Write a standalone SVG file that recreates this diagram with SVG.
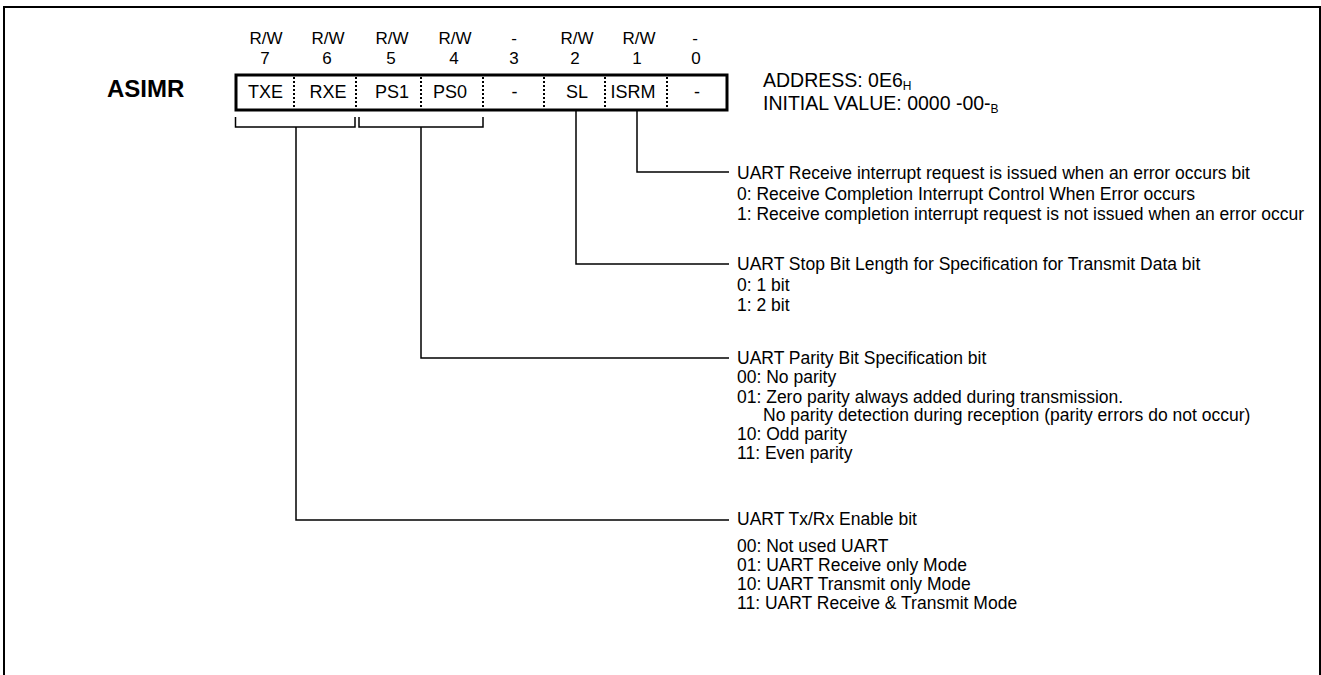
<svg xmlns="http://www.w3.org/2000/svg" width="1321" height="675" viewBox="0 0 1321 675">
<style>
text{font-family:"Liberation Sans",Arial,sans-serif;fill:#000}
.hd{font-size:17px;text-anchor:middle}
.cell{font-size:18px;text-anchor:middle}
.desc{font-size:17.5px}
.addr{font-size:19.5px}
.sub{font-size:12px}
.ln{fill:none;stroke:#000;stroke-width:1.5}
.div{stroke:#000;stroke-width:2;stroke-dasharray:2 2}
</style>
<rect width="1321" height="675" fill="#fff"/>
<path d="M4,676 V7 H1320 V676" fill="none" stroke="#000" stroke-width="2"/>
<g id="title"><text x="107" y="97" font-size="24" font-weight="bold">ASIMR</text></g>
<g id="access">
<text class="hd" x="266" y="44">R/W</text>
<text class="hd" x="328" y="44">R/W</text>
<text class="hd" x="392" y="44">R/W</text>
<text class="hd" x="455" y="44">R/W</text>
<text class="hd" x="514" y="44">-</text>
<text class="hd" x="577" y="44">R/W</text>
<text class="hd" x="639" y="44">R/W</text>
<text class="hd" x="695" y="44">-</text>
</g>
<g id="bitnums">
<text class="hd" x="265" y="64">7</text>
<text class="hd" x="327" y="64">6</text>
<text class="hd" x="391" y="64">5</text>
<text class="hd" x="454" y="64">4</text>
<text class="hd" x="514" y="64">3</text>
<text class="hd" x="575" y="64">2</text>
<text class="hd" x="637" y="64">1</text>
<text class="hd" x="696" y="64">0</text>
</g>
<g id="register">
<rect x="236" y="75" width="491" height="35" fill="none" stroke="#000" stroke-width="3"/>
<line class="div" x1="294" y1="77" x2="294" y2="109"/>
<line class="div" x1="356" y1="77" x2="356" y2="109"/>
<line class="div" x1="421" y1="77" x2="421" y2="109"/>
<line class="div" x1="483" y1="77" x2="483" y2="109"/>
<line class="div" x1="544" y1="77" x2="544" y2="109"/>
<line class="div" x1="605" y1="77" x2="605" y2="109"/>
<line class="div" x1="667" y1="77" x2="667" y2="109"/>
<text class="cell" x="265.5" y="98">TXE</text>
<text class="cell" x="328" y="98">RXE</text>
<text class="cell" x="392" y="98">PS1</text>
<text class="cell" x="450" y="98">PS0</text>
<text class="cell" x="514.5" y="98">-</text>
<text class="cell" x="577" y="98">SL</text>
<text class="cell" x="633" y="98">ISRM</text>
<text class="cell" x="697" y="98">-</text>
</g>
<g id="address">
<text class="addr" x="763" y="87">ADDRESS: 0E6<tspan class="sub" dy="3">H</tspan></text>
<text class="addr" x="763" y="110">INITIAL VALUE: 0000 -00-<tspan class="sub" dy="3">B</tspan></text>
</g>
<g id="connectors">
<path class="ln" d="M235.5,117 V127 H355 V117"/>
<path class="ln" d="M359,117 V127 H483 V117"/>
<path class="ln" d="M296,127 V520 H729"/>
<path class="ln" d="M421,127 V358 H729"/>
<path class="ln" d="M576,110 V264 H729"/>
<path class="ln" d="M637,110 V172 H729"/>
</g>
<g id="isrm-desc">
<text class="desc" x="737" y="179">UART Receive interrupt request is issued when an error occurs bit</text>
<text class="desc" x="737" y="200">0: Receive Completion Interrupt Control When Error occurs</text>
<text class="desc" x="737" y="220">1: Receive completion interrupt request is not issued when an error occur</text>
</g>
<g id="sl-desc">
<text class="desc" x="737" y="270">UART Stop Bit Length for Specification for Transmit Data bit</text>
<text class="desc" x="737" y="291">0: 1 bit</text>
<text class="desc" x="737" y="311">1: 2 bit</text>
</g>
<g id="ps-desc">
<text class="desc" x="737" y="364">UART Parity Bit Specification bit</text>
<text class="desc" x="737" y="383">00: No parity</text>
<text class="desc" x="737" y="403">01: Zero parity always added during transmission.</text>
<text class="desc" x="763" y="421">No parity detection during reception (parity errors do not occur)</text>
<text class="desc" x="737" y="440">10: Odd parity</text>
<text class="desc" x="737" y="459">11: Even parity</text>
</g>
<g id="txrx-desc">
<text class="desc" x="737" y="525">UART Tx/Rx Enable bit</text>
<text class="desc" x="737" y="552">00: Not used UART</text>
<text class="desc" x="737" y="571">01: UART Receive only Mode</text>
<text class="desc" x="737" y="590">10: UART Transmit only Mode</text>
<text class="desc" x="737" y="609">11: UART Receive &amp; Transmit Mode</text>
</g>
</svg>
